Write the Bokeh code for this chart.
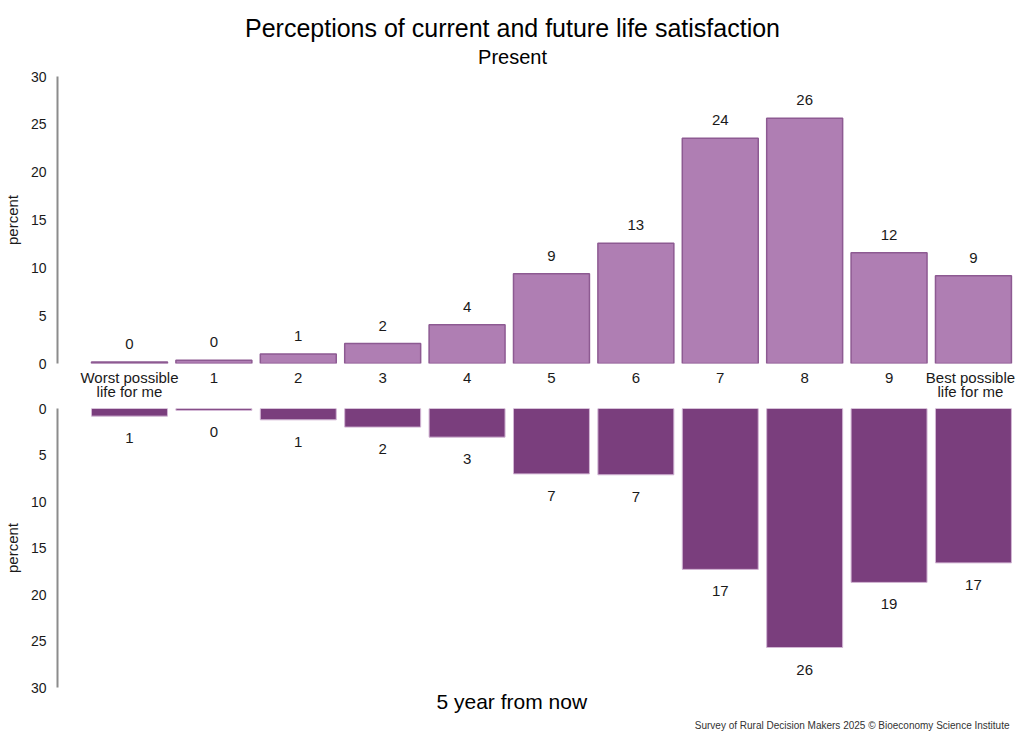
from bokeh.plotting import figure
from bokeh.models import Range1d, FixedTicker, ColumnDataSource, Title
from bokeh.layouts import column
from bokeh.embed import file_html
from bokeh.resources import INLINE
from bokeh.core.properties import value

categories = ["Worst possible\nlife for me", "1", "2", "3", "4", "5", "6", "7", "8", "9",
              "Best possible\nlife for me"]
present = [0.15, 0.35, 0.98, 2.09, 4.05, 9.38, 12.58, 23.55, 25.64, 11.57, 9.16]
future = [0.82, 0.2, 1.22, 2.0, 3.08, 7.03, 7.13, 17.3, 25.7, 18.7, 16.6]
y_ticks = [0, 5, 10, 15, 20, 25, 30]
title_text = "Perceptions of current and future life satisfaction"
top_label = "Present"
bottom_label = "5 year from now"
caption = "Survey of Rural Decision Makers 2025 \u00a9 Bioeconomy Science Institute"

FONT = "Liberation Sans"
TXT = "#1a1a1a"
W = 1016
FW = 959  # frame width (pixel units for the text bands)
xs = list(range(len(categories)))

src = ColumnDataSource(dict(
    x=xs,
    present=present,
    future=future,
    plab=[f"{round(v):d}" for v in present],
    flab=[f"{round(v):d}" for v in future],
    line1=[c.split("\n")[0] for c in categories],
    line2=[c.split("\n")[1] if "\n" in c else "" for c in categories],
    # keep the last (wide) label inside the canvas edge
    dx=[0] * (len(categories) - 1) + [-3],
))

x_range = Range1d(-0.853, 10.51)


def bare(height, x_rng, y_rng):
    p = figure(width=W, height=height, x_range=x_rng, y_range=y_rng,
               output_backend="svg", toolbar_location=None,
               x_axis_location=None, y_axis_location=None,
               min_border_left=49, min_border_right=0, min_border_top=0, min_border_bottom=0)
    p.outline_line_color = None
    p.grid.grid_line_color = None
    p.background_fill_color = "white"
    p.border_fill_color = "white"
    return p


def style(p):
    p.outline_line_color = None
    p.xgrid.grid_line_color = None
    p.ygrid.grid_line_color = None
    p.background_fill_color = "white"
    p.border_fill_color = "white"
    p.xaxis.visible = False
    ya = p.yaxis[0]
    ya.ticker = FixedTicker(ticks=y_ticks)
    ya.axis_line_color = "#8c8c8c"
    ya.axis_line_width = 2
    ya.major_tick_line_color = None
    ya.minor_tick_line_color = None
    ya.major_label_text_font = FONT
    ya.major_label_text_font_size = "14px"
    ya.major_label_text_color = TXT
    ya.major_label_standoff = 5
    ya.axis_label = "percent"
    ya.axis_label_text_font = FONT
    ya.axis_label_text_font_size = "15px"
    ya.axis_label_text_font_style = "normal"
    ya.axis_label_text_color = TXT
    ya.axis_label_standoff = 7


# --- title band (frame-relative pixel coordinates) ---
pt = bare(68, Range1d(0, FW), Range1d(68, 0))
pt.text(x=[455], y=[27], text=[title_text], text_align="center", text_baseline="middle",
        text_font=value(FONT), text_font_size="25px", text_color="black")
pt.text(x=[455], y=[56], text=[top_label], text_align="center", text_baseline="middle",
        text_font=value(FONT), text_font_size="20px", text_color="black")

# --- present ---
p1 = figure(width=W, height=302, x_range=x_range, y_range=Range1d(0, 30),
            output_backend="svg", toolbar_location=None,
            min_border_left=49, min_border_right=0, min_border_top=8, min_border_bottom=7)
style(p1)
p1.vbar(x="x", top="present", bottom=0, width=0.9, source=src,
        fill_color="#af7eb3", line_color="#8d5a92", line_width=1.5)
p1.text(x="x", y="present", text="plab", source=src, y_offset=-18,
        text_align="center", text_baseline="middle", text_font=value(FONT),
        text_font_size="15px", text_color=TXT)

# --- category labels ---
pc = bare(31, x_range, Range1d(31, 0))
pc.text(x="x", y=7, text="line1", source=src, x_offset="dx", text_align="center",
        text_baseline="middle", text_font=value(FONT), text_font_size="15px", text_color=TXT)
pc.text(x="x", y=21, text="line2", source=src, x_offset="dx", text_align="center",
        text_baseline="middle", text_font=value(FONT), text_font_size="15px", text_color=TXT)

# --- five years from now ---
p2 = figure(width=W, height=312, x_range=x_range, y_range=Range1d(30, 0),
            output_backend="svg", toolbar_location=None,
            min_border_left=49, min_border_right=0, min_border_top=7, min_border_bottom=26)
style(p2)
p2.vbar(x="x", top="future", bottom=0, width=0.9, source=src,
        fill_color="#7a3e7d", line_color="#d2b6d4", line_width=1)
p2.text(x="x", y="future", text="flab", source=src, y_offset=22,
        text_align="center", text_baseline="middle", text_font=value(FONT),
        text_font_size="15px", text_color=TXT)
p2.add_layout(Title(text=bottom_label, align="left", offset=379, standoff=0,
                    text_font=FONT, text_font_size="21px", text_font_style="normal",
                    text_color="black"), "below")

# --- footer band ---
pf = bare(24, Range1d(0, FW), Range1d(24, 0))
pf.text(x=[952], y=[12], text=[caption], text_align="right", text_baseline="middle",
        text_font=value(FONT), text_font_size="10px", text_color="#333333")

layout = column(pt, p1, pc, p2, pf, spacing=0)
open("out.html", "w").write(file_html(layout, INLINE))
